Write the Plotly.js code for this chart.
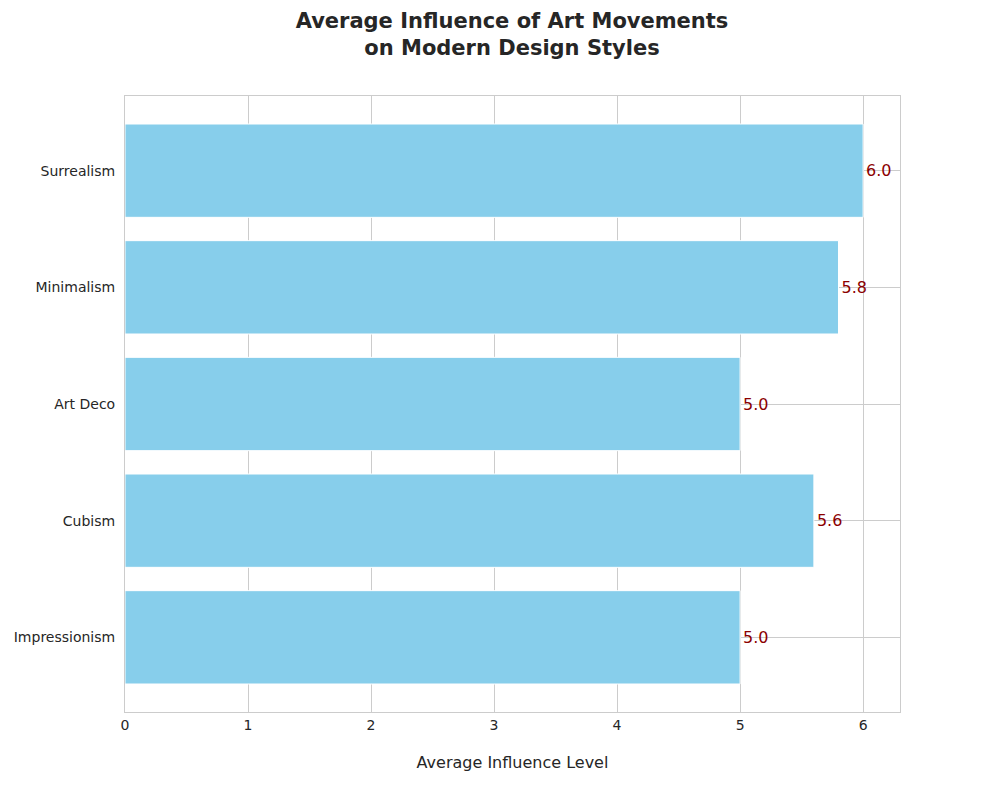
<!DOCTYPE html>
<html><head><script src="https://cdn.plot.ly/plotly-3.0.1.min.js"></script></head>
<body style="margin:0"><div id="c" style="width:1000px;height:800px"></div>
<script>
const categories = ["Impressionism","Cubism","Art Deco","Minimalism","Surrealism"];
const values = [5.0, 5.6, 5.0, 5.8, 6.0];
const labels = values.map(v => v.toFixed(1));
Plotly.newPlot('c', [{
  type:'bar', orientation:'h', y:categories, x:values, width:0.8,
  marker:{color:'#87CEEB', line:{color:'white', width:1}},
  text:labels, textposition:'outside', cliponaxis:false,
  textfont:{color:'#8B0000', size:16, family:'DejaVu Sans'}, hoverinfo:'none'
}], {
  width:1000, height:800, paper_bgcolor:'white', plot_bgcolor:'white',
  margin:{l:125, r:100, t:96, b:88},
  font:{family:'DejaVu Sans', color:'#262626', size:14},
  title:{text:'<b>Average Influence of Art Movements<br>on Modern Design Styles</b>', x:0.512, xanchor:'center', y:0.965, yanchor:'top', font:{size:21, color:'#262626'}},
  xaxis:{range:[0,6.3], dtick:1, showgrid:true, gridcolor:'#cccccc', zeroline:false,
    showline:true, linecolor:'#cccccc', mirror:true, ticks:'', ticklen:0,
    title:{text:'Average Influence Level', font:{size:16}, standoff:25}},
  yaxis:{range:[-0.64,4.64], showgrid:true, gridcolor:'#cccccc', showline:true, linecolor:'#cccccc', mirror:true, ticks:'', ticklabelstandoff:6},
  showlegend:false
}, {staticPlot:true});
</script></body></html>
